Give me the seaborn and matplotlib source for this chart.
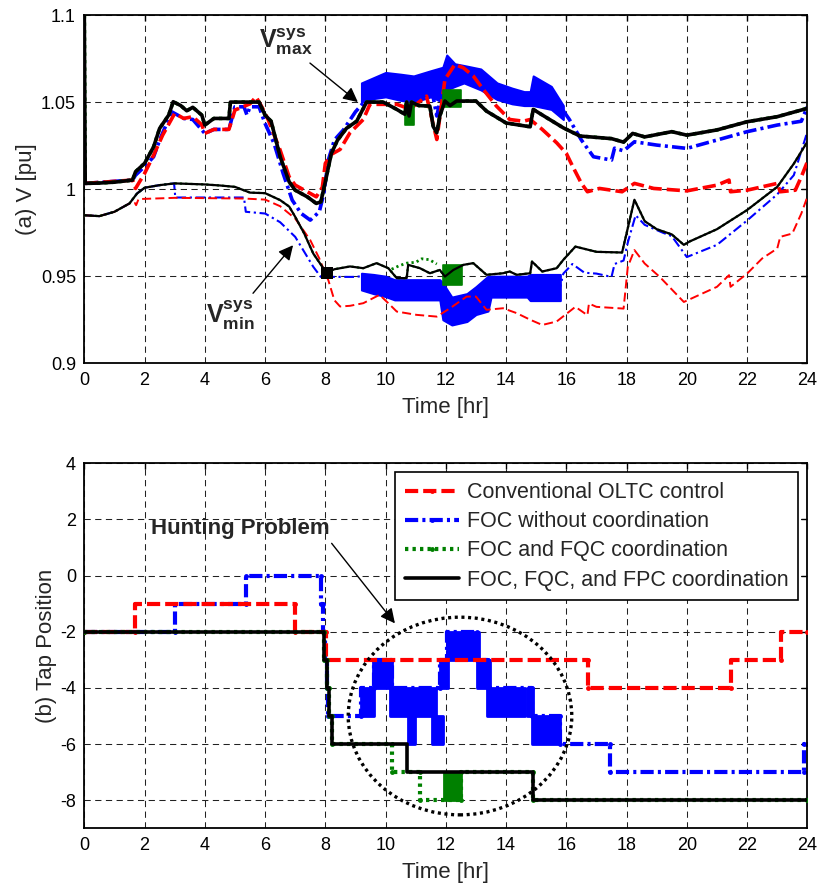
import numpy as np
import matplotlib
matplotlib.use("Agg")
import matplotlib.pyplot as plt
from matplotlib.patches import Ellipse
import seaborn as sns

sns.set_style("white")
plt.rcParams["font.family"] = ["Liberation Sans", "DejaVu Sans"]
plt.rcParams["mathtext.fontset"] = "custom"
plt.rcParams["mathtext.rm"] = "Liberation Sans"
plt.rcParams["mathtext.bf"] = "Liberation Sans:bold"
plt.rcParams["lines.scale_dashes"] = False

# ---------------------------------------------------------------------------
# (a) system voltage envelopes [pu]
# ---------------------------------------------------------------------------
# FOC, FQC and FPC coordination
t_vmax_fpc = [0, 0.03, 0.5, 1.0, 1.6, 1.7, 2.0, 2.3, 2.5, 2.8, 2.95, 3.2, 3.4, 3.6, 3.9,
              4.0, 4.3, 4.8, 4.85, 5.8, 6.0, 6.2, 6.5, 6.8, 7.0, 7.4, 7.7, 7.85, 8.0, 8.2,
              8.4, 8.7, 9.04, 9.37, 9.92, 10.37, 10.64, 10.7, 10.78, 10.86, 11.1, 11.47,
              11.58, 11.7, 11.8, 11.97, 12.14, 12.36, 13.0, 13.35, 14.0, 14.8, 14.9, 15.35,
              15.9, 16.45, 17.5, 17.9, 18.2, 18.6, 19.5, 20.0, 21.0, 22.0, 23.0, 24.0]
v_vmax_fpc = [1.100, 1.0033, 1.0035, 1.0040, 1.0052, 1.0100, 1.0148, 1.0243, 1.0349, 1.0425,
              1.0502, 1.0480, 1.0450, 1.0470, 1.0425, 1.0368, 1.0406, 1.0406, 1.0500, 1.0500,
              1.0425, 1.0390, 1.0186, 1.0042, 0.9994, 0.9956, 0.9918, 0.9927, 1.0042, 1.0205,
              1.0280, 1.0349, 1.0390, 1.0500, 1.0500, 1.0458, 1.0430, 1.0500, 1.0420, 1.0500,
              1.0480, 1.0477, 1.0360, 1.0324, 1.0420, 1.0506, 1.0480, 1.0506, 1.0506, 1.0448,
              1.0380, 1.0358, 1.0458, 1.0410, 1.0352, 1.0305, 1.0290, 1.0270, 1.0320, 1.0300,
              1.0330, 1.0310, 1.0340, 1.0387, 1.0416, 1.0464]
t_vmin_fpc = [0, 0.5, 1.0, 1.5, 1.75, 2.0, 2.5, 3.0, 4.0, 4.5, 5.0, 5.5, 6.0, 6.5, 6.8,
              7.0, 7.3, 7.6, 7.9, 8.04, 8.3, 8.82, 9.26, 9.7, 10.09, 10.37, 10.7, 10.75,
              11.14, 11.47, 11.8, 11.97, 12.25, 12.58, 12.91, 13.35, 13.9, 14.12, 14.35,
              14.8, 14.86, 15.2, 15.68, 15.9, 16.3, 17.0, 17.85, 18.26, 18.6, 19.0, 19.5,
              19.9, 20.1, 21.0, 22.0, 22.6, 23.0, 23.55, 24.0]
v_vmin_fpc = [0.9850, 0.9845, 0.9870, 0.9918, 0.9975, 1.0008, 1.0023, 1.0033, 1.0027, 1.0021,
              1.0013, 0.9980, 0.9977, 0.9937, 0.9900, 0.9841, 0.9745, 0.9630, 0.9554, 0.9520,
              0.9540, 0.9556, 0.9546, 0.9575, 0.9546, 0.9489, 0.9489, 0.9565, 0.9546, 0.9517,
              0.9536, 0.9498, 0.9536, 0.9565, 0.9575, 0.9508, 0.9517, 0.9527, 0.9508, 0.9517,
              0.9584, 0.9527, 0.9546, 0.9594, 0.9670, 0.9640, 0.9636, 0.9939, 0.9816, 0.9770,
              0.9740, 0.9680, 0.9700, 0.9770, 0.9880, 0.9960, 1.0013, 1.0146, 1.0272]
vmin_fpc_marked = [19]          # sample highlighted with a square at t = 8.04 h

# FOC without coordination
t_vmax_foc = [0.03, 1.6, 1.7, 2.0, 2.3, 2.5, 2.9, 3.3, 3.6, 4.0, 4.3, 4.8, 5.0, 5.3, 5.4,
              5.5, 5.8, 6.0, 6.3, 6.6, 6.9, 7.2, 7.5, 7.8, 7.95, 8.1, 8.3, 8.6, 9.0, 9.2,
              9.6, 10.5, 11.5, 11.7, 12.0, 13.0, 14.0, 14.8, 15.5, 15.9, 16.1, 16.5, 16.9,
              17.5, 17.6, 17.9, 18.26, 19.0, 20.0, 21.0, 22.0, 23.0, 23.8, 24.0]
v_vmax_foc = [1.0033, 1.0052, 1.0080, 1.0130, 1.0186, 1.0282, 1.0444, 1.0406, 1.0400, 1.0320,
              1.0343, 1.0343, 1.0473, 1.0473, 1.0425, 1.0473, 1.0473, 1.0377, 1.0262, 1.0090,
              0.9937, 0.9860, 0.9822, 0.9870, 0.9975, 1.0167, 1.0282, 1.0340, 1.0444, 1.0483,
              1.0560, 1.0580, 1.0600, 1.0420, 1.0660, 1.0630, 1.0540, 1.0520, 1.0520, 1.0450,
              1.0400, 1.0282, 1.0186, 1.0167, 1.0235, 1.0220, 1.0272, 1.0253, 1.0234, 1.0282,
              1.0330, 1.0368, 1.0390, 1.0473]
t_vmin_foc = [0, 0.5, 1.0, 1.5, 1.75, 2.0, 2.5, 2.98, 3.02, 5.3, 5.36, 6.0, 6.5, 7.0, 7.3,
              7.6, 7.85, 8.2, 9.0, 9.2, 9.6, 10.5, 11.8, 12.3, 13.0, 13.5, 14.7, 15.8, 15.9,
              16.2, 16.6, 17.0, 17.5, 17.6, 17.9, 18.05, 18.3, 18.6, 19.2, 19.5, 20.0, 21.0,
              22.0, 23.0, 23.55, 24.0]
v_vmin_foc = [0.9850, 0.9845, 0.9870, 0.9918, 0.9975, 1.0008, 1.0023, 1.0033, 0.9952, 0.9952,
              0.9870, 0.9860, 0.9810, 0.9726, 0.9640, 0.9554, 0.9496, 0.9496, 0.9496, 0.9500,
              0.9460, 0.9420, 0.9420, 0.9300, 0.9360, 0.9440, 0.9440, 0.9440, 0.9515, 0.9570,
              0.9520, 0.9515, 0.9496, 0.9570, 0.9590, 0.9700, 0.9850, 0.9795, 0.9750, 0.9730,
              0.9610, 0.9680, 0.9820, 0.9970, 1.0080, 1.0330]
# spread of the hunting FOC voltages (time, lower, upper)
t_band_vmax_foc = [9.2, 9.6, 10.0, 10.5, 10.93, 11.5, 11.9, 12.03, 12.3, 12.6, 13.16, 13.7,
                   14.2, 14.6, 14.8, 14.9, 15.5, 15.9]
lo_band_vmax_foc = [1.0500, 1.0520, 1.0530, 1.0510, 1.0500, 1.0530, 1.0500, 1.0570, 1.0590,
                    1.0610, 1.0570, 1.0515, 1.0490, 1.0480, 1.0480, 1.0480, 1.0458, 1.0400]
hi_band_vmax_foc = [1.0610, 1.0640, 1.0670, 1.0660, 1.0650, 1.0680, 1.0700, 1.0770, 1.0720,
                    1.0710, 1.0690, 1.0610, 1.0580, 1.0560, 1.0560, 1.0650, 1.0590, 1.0480]
t_band_vmin_foc = [9.2, 9.6, 10.0, 10.3, 11.0, 11.8, 11.9, 12.2, 12.7, 13.0, 13.4, 13.5,
                   14.7, 14.8, 15.8]
lo_band_vmin_foc = [0.9421, 0.9400, 0.9383, 0.9364, 0.9364, 0.9364, 0.9250, 0.9220, 0.9240,
                    0.9280, 0.9300, 0.9380, 0.9380, 0.9360, 0.9360]
hi_band_vmin_foc = [0.9517, 0.9510, 0.9500, 0.9480, 0.9480, 0.9480, 0.9460, 0.9380, 0.9400,
                    0.9440, 0.9500, 0.9500, 0.9500, 0.9510, 0.9510]

# FOC and FQC coordination: follows the FPC case except in these windows
# (start, end, lower, upper)
win_vmax_fqc = [(10.65, 10.95, 1.037, 1.049), (11.9, 12.5, 1.047, 1.057)]
win_vmin_fqc = [(11.9, 12.55, 0.9450, 0.9565)]
# scattered FQC minimum just above the FPC curve
t_vmin_fqc_dev = [10.2, 10.45, 10.7, 11.0, 11.2, 11.45, 11.7]
v_vmin_fqc_dev = [0.9540, 0.9560, 0.9575, 0.9580, 0.9600, 0.9595, 0.9570]

# Conventional OLTC control
t_vmax_conv = [0.03, 1.6, 1.7, 2.0, 2.3, 2.6, 3.0, 3.3, 3.6, 3.9, 4.0, 4.3, 4.8, 5.0, 5.5,
               5.7, 5.9, 6.1, 6.5, 6.8, 7.0, 7.4, 7.7, 7.9, 8.0, 8.2, 8.49, 8.82, 9.26, 9.48,
               9.92, 10.37, 10.81, 11.36, 11.7, 11.97, 12.3, 12.58, 12.91, 13.24, 13.68,
               14.12, 14.57, 14.8, 15.2, 15.68, 16.0, 16.2, 16.5, 16.7, 17.1, 17.85, 18.26,
               18.9, 20.0, 21.0, 21.4, 21.45, 22.0, 23.0, 23.1, 23.6, 23.8, 24.0]
v_vmax_conv = [1.0033, 1.0052, 1.0004, 1.0090, 1.0195, 1.0310, 1.0435, 1.0406, 1.0416, 1.0370,
               1.0320, 1.0343, 1.0343, 1.0454, 1.0490, 1.0530, 1.0470, 1.0400, 1.0224, 1.0070,
               1.0023, 0.9985, 0.9956, 1.0010, 1.0148, 1.0200, 1.0228, 1.0324, 1.0400, 1.0487,
               1.0487, 1.0487, 1.0460, 1.0534, 1.0285, 1.0630, 1.0716, 1.0697, 1.0650, 1.0573,
               1.0477, 1.0400, 1.0390, 1.0400, 1.0343, 1.0266, 1.0205, 1.0134, 1.0033, 0.9985,
               1.0004, 0.9985, 1.0033, 1.0004, 0.9990, 1.0023, 1.0052, 0.9985, 0.9994, 1.0033,
               0.9985, 0.9994, 1.0071, 1.0157]
t_vmin_conv = [0, 0.5, 1.0, 1.5, 1.68, 1.72, 1.8, 3.0, 5.3, 6.0, 6.5, 7.0, 7.5, 7.8, 8.0,
               8.1, 8.3, 8.49, 8.82, 9.26, 9.8, 10.09, 10.37, 11.03, 11.7, 12.14, 12.69, 13.0,
               13.35, 13.9, 14.35, 14.8, 15.2, 15.68, 16.1, 16.3, 16.7, 16.75, 17.0, 17.9,
               18.04, 18.26, 18.6, 19.1, 19.9, 21.0, 21.4, 21.45, 22.0, 22.5, 23.0, 23.1,
               23.5, 23.8, 24.0]
v_vmin_conv = [0.9850, 0.9845, 0.9870, 0.9918, 0.9920, 0.9908, 0.9943, 0.9950, 0.9946, 0.9940,
               0.9902, 0.9831, 0.9707, 0.9602, 0.9515, 0.9477, 0.9362, 0.9326, 0.9330, 0.9345,
               0.9393, 0.9345, 0.9297, 0.9278, 0.9268, 0.9316, 0.9383, 0.9383, 0.9307, 0.9316,
               0.9288, 0.9250, 0.9220, 0.9240, 0.9297, 0.9324, 0.9276, 0.9343, 0.9324, 0.9314,
               0.9554, 0.9650, 0.9573, 0.9496, 0.9352, 0.9439, 0.9506, 0.9439, 0.9515, 0.9602,
               0.9659, 0.9726, 0.9745, 0.9860, 0.9956]

# ---------------------------------------------------------------------------
# (b) OLTC tap position: switching instants [h] and the tap reached
# ---------------------------------------------------------------------------
tap_t_conv = [0, 1.68, 7.0, 8.02, 16.73, 21.46, 23.12]
tap_conv = [-2, -1, -2, -3, -4, -3, -2]
tap_t_foc = [0, 3.0, 5.36, 7.85, 7.92, 8.0, 8.05, 8.1, 9.2, 9.6, 10.2, 11.8, 12.05, 13.05,
             13.4, 14.85, 15.8, 17.45, 23.9]
tap_foc = [-2, -1, 0, -1, -2, -3, -4, -5, -4, -3, -4, -3, -2, -3, -4, -5, -6, -7, -6]
tap_t_fqc = [0, 7.97, 8.05, 8.12, 8.22, 10.2, 11.14, 12.5, 14.88]
tap_fqc = [-2, -3, -4, -5, -6, -7, -8, -7, -8]
tap_t_fpc = [0, 7.97, 8.05, 8.12, 8.22, 10.72, 14.88]
tap_fpc = [-2, -3, -4, -5, -6, -7, -8]
# windows where the tap hunts between two positions (start, end, lower, upper)
hunt_foc = [(9.2, 9.6, -5, -4), (9.57, 10.2, -4, -3), (10.15, 10.81, -5, -4),
            (10.75, 10.97, -6, -5), (10.86, 11.69, -5, -4), (11.53, 11.9, -6, -5),
            (11.8, 12.08, -4, -3), (12.03, 13.09, -3, -2), (13.03, 13.47, -4, -3),
            (13.36, 14.63, -5, -4), (14.68, 14.9, -5, -4), (14.85, 15.79, -6, -5)]
hunt_fqc = [(11.95, 12.5, -8, -7)]

labels = ["Conventional OLTC control", "FOC without coordination",
          "FOC and FQC coordination", "FOC, FQC, and FPC coordination"]

RED, BLUE, GREEN, BLACK = "#ff0000", "#0000ff", "#008000", "#000000"
LS_RED = (0, (9.5, 3.6))
LS_BLUE = (0, (9.5, 3.0, 2.2, 3.0))
LS_GREEN = (0, (2.4, 3.0))
LS_RED_THIN = (0, (6.5, 3.0))
LS_BLUE_THIN = (0, (7.0, 2.6, 1.6, 2.6))
LS_GREEN_THIN = (0, (1.6, 2.2))


def steps(times, levels, t_end=24.0):
    x, y = [], []
    for i, (t, v) in enumerate(zip(times, levels)):
        t_next = times[i + 1] if i + 1 < len(times) else t_end
        x += [t, t_next]
        y += [v, v]
    return np.array(x), np.array(y)


def line(ax, x, y, **kw):
    return sns.lineplot(x=np.asarray(x), y=np.asarray(y), ax=ax, estimator=None,
                        sort=False, legend=False, **kw)


def style_axes(ax):
    ax.set_xlim(0, 24)
    ax.set_xticks(np.arange(0, 25, 2))
    ax.grid(True, color="#222222", linestyle=(0, (4.5, 3.2)), linewidth=0.75)
    ax.tick_params(direction="in", length=4, width=1, top=True, right=True,
                   labelsize=13, pad=6, colors="black")
    for s in ax.spines.values():
        s.set_linewidth(1.3)
        s.set_color("black")
        s.set_visible(True)
    ax.set_xlabel("Time [hr]", fontsize=16, labelpad=6)


fig = plt.figure(figsize=(8.17, 8.83), dpi=100)
ax1 = fig.add_axes([0.1032, 0.5886, 0.885, 0.3944])
ax2 = fig.add_axes([0.1032, 0.0619, 0.885, 0.4134])

# ---------------------------- (a) voltages --------------------------------
ax1.fill_between(t_band_vmax_foc, lo_band_vmax_foc, hi_band_vmax_foc, color=BLUE,
                 lw=1.5, zorder=2)
ax1.fill_between(t_band_vmin_foc, lo_band_vmin_foc, hi_band_vmin_foc, color=BLUE,
                 lw=1.5, zorder=2)
line(ax1, t_vmax_foc, v_vmax_foc, color=BLUE, lw=2.6, linestyle=LS_BLUE, zorder=2)
line(ax1, t_vmin_foc, v_vmin_foc, color=BLUE, lw=1.5, linestyle=LS_BLUE_THIN, zorder=2)
line(ax1, t_vmax_conv, v_vmax_conv, color=RED, lw=2.6, linestyle=LS_RED, zorder=3)
line(ax1, t_vmin_conv, v_vmin_conv, color=RED, lw=1.4, linestyle=LS_RED_THIN, zorder=3)
line(ax1, t_vmax_fpc, v_vmax_fpc, color=GREEN, lw=2.6, linestyle=LS_GREEN, zorder=4)
line(ax1, t_vmin_fpc, v_vmin_fpc, color=GREEN, lw=1.6, linestyle=LS_GREEN_THIN, zorder=4)
line(ax1, t_vmin_fqc_dev, v_vmin_fqc_dev, color=GREEN, lw=2.0, linestyle=LS_GREEN_THIN,
     zorder=4)
for t0, t1, lo, hi in win_vmax_fqc + win_vmin_fqc:
    ax1.fill_between([t0, t1], [lo, lo], [hi, hi], color=GREEN, lw=1.2, zorder=4)
line(ax1, t_vmax_fpc, v_vmax_fpc, color=BLACK, lw=2.6, zorder=5)
line(ax1, t_vmin_fpc, v_vmin_fpc, color=BLACK, lw=1.6, zorder=5, marker="s",
     markersize=9, markevery=vmin_fpc_marked, markeredgewidth=0)

ax1.set_ylim(0.9, 1.1)
ax1.set_yticks([0.9, 0.95, 1.0, 1.05, 1.1])
ax1.set_yticklabels(["0.9", "0.95", "1", "1.05", "1.1"])
ax1.set_ylabel("(a) V [pu]", fontsize=16, labelpad=3)
style_axes(ax1)

arrow = dict(arrowstyle="-|>", color="black", lw=1.0, mutation_scale=22,
             shrinkA=0, shrinkB=0)
ax1.annotate("", xy=(9.08, 1.050), xytext=(7.49, 1.0724), arrowprops=arrow, zorder=6)
ax1.annotate("", xy=(6.93, 0.9678), xytext=(5.6, 0.9402), arrowprops=arrow, zorder=6)
ax1.text(6.69, 1.0845, r"$\mathbf{V}^{\mathbf{sys}}_{\mathbf{max}}$", fontsize=18,
         ha="center", va="center", zorder=6)
ax1.text(4.86, 0.9276, r"$\mathbf{V}^{\mathbf{sys}}_{\mathbf{min}}$", fontsize=18,
         ha="center", va="center", zorder=6)

# ---------------------------- (b) tap position ----------------------------
for t0, t1, lo, hi in hunt_foc:
    ax2.fill_between([t0, t1], [lo, lo], [hi, hi], color=BLUE, lw=2.0, zorder=2)
for t0, t1, lo, hi in hunt_fqc:
    ax2.fill_between([t0, t1], [lo, lo], [hi, hi], color=GREEN, lw=2.0, zorder=4)

handles = []
for (tt, tp, col, ls, lw, z) in [
        (tap_t_conv, tap_conv, RED, LS_RED, 3.0, 3),
        (tap_t_foc, tap_foc, BLUE, LS_BLUE, 3.0, 2),
        (tap_t_fqc, tap_fqc, GREEN, LS_GREEN, 3.0, 4),
        (tap_t_fpc, tap_fpc, BLACK, "-", 2.6, 5)]:
    x, y = steps(tt, tp)
    line(ax2, x, y, color=col, lw=lw, linestyle=ls, zorder=z,
         marker="." if col != BLACK else None, markersize=7, markeredgewidth=0)
    handles.append(ax2.lines[-1])

ax2.add_patch(Ellipse((12.47, -5.0), 7.42, 7.04, fill=False, edgecolor="black",
                      linewidth=2.4, linestyle=(0, (2.2, 2.6)), zorder=6))
ax2.annotate("", xy=(10.31, -1.70), xytext=(8.21, 1.15), arrowprops=arrow, zorder=6)
ax2.text(5.17, 1.68, "Hunting Problem", fontsize=16, fontweight="bold",
         ha="center", va="center", zorder=6)

ax2.set_ylim(-9, 4)
ax2.set_yticks(np.arange(-8, 5, 2))
ax2.set_yticklabels([str(v) for v in range(-8, 5, 2)])
ax2.set_ylabel("(b) Tap Position", fontsize=16, labelpad=2)
style_axes(ax2)

leg = ax2.legend(handles, labels, loc="upper right", fontsize=15.5, frameon=True,
                 fancybox=False, framealpha=1, edgecolor="black", borderaxespad=0.42,
                 handlelength=2.55, handletextpad=0.35, labelspacing=0.38,
                 borderpad=0.45, numpoints=1)
leg.get_frame().set_linewidth(1.2)
leg.set_zorder(10)

fig.savefig("out.png", dpi=100)
